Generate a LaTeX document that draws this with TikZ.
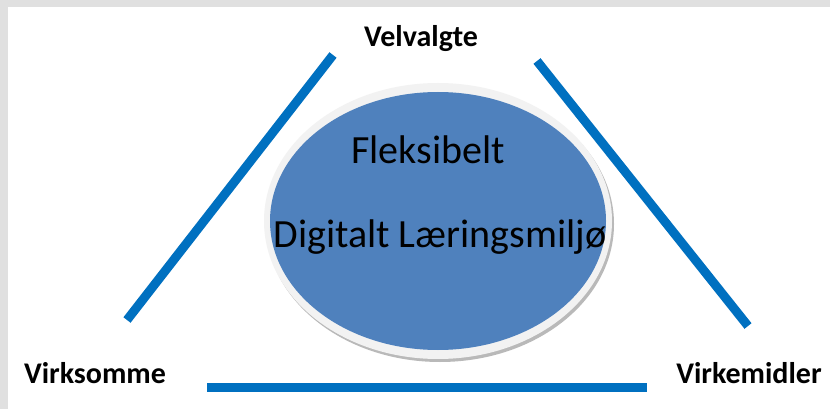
\documentclass[tikz,border=0pt]{standalone}
\usepackage{fontspec}
\setmainfont{Carlito}
\usepackage{tikz}
\definecolor{barblue}{HTML}{0070C0}
\definecolor{hubblue}{HTML}{4F81BD}
\definecolor{framegray}{HTML}{E0E0E0}
\definecolor{ringgray}{HTML}{F2F2F2}
\tikzset{
  bar/.style={line width=9pt, barblue},
  corner label/.style={font=\bfseries\fontsize{30}{32}\selectfont, anchor=base},
  hub label/.style={font=\fontsize{40}{44}\selectfont, anchor=base}
}

\begin{document}
\begin{tikzpicture}[x=1pt,y=-1pt]
\useasboundingbox (0,0) rectangle (830,409);
% Draw frame
\fill[white] (0,0) rectangle (830,409);
\fill[framegray] (0,0) rectangle (830,7);
\fill[framegray] (0,0) rectangle (8,409);
% corner labels
\node[corner label] (velvalgte)   at (421,47)  {Velvalgte};
\node[corner label] (virksomme)   at (95,383)  {Virksomme};
\node[corner label] (virkemidler) at (749,383) {Virkemidler};
% bar ends
\coordinate (leftlow)   at (127,320);
\coordinate (lefthigh)  at (333,55);
\coordinate (righthigh) at (537,61);
\coordinate (rightlow)  at (748,326);
\coordinate (baseleft)  at (207,387);
\coordinate (baseright) at (647,387);
\draw[bar] (leftlow) -- (lefthigh);
\draw[bar] (righthigh) -- (rightlow);
\draw[bar] (baseleft) -- (baseright);
% centre ellipse
\coordinate (hub) at (438,221);
\fill[gray!55] ([shift={(2,3)}]hub) ellipse [x radius=174, y radius=138];
\fill[ringgray] (hub) ellipse [x radius=174, y radius=138];
\fill[hubblue] (hub) ellipse [x radius=168, y radius=129];
%hub captions
\node[hub label] (fleksibelt) at (428,164) {Fleksibelt};
\node[hub label] (digitalt)   at (440,247) {Digitalt Læringsmiljø};
\end{tikzpicture}
\end{document}
